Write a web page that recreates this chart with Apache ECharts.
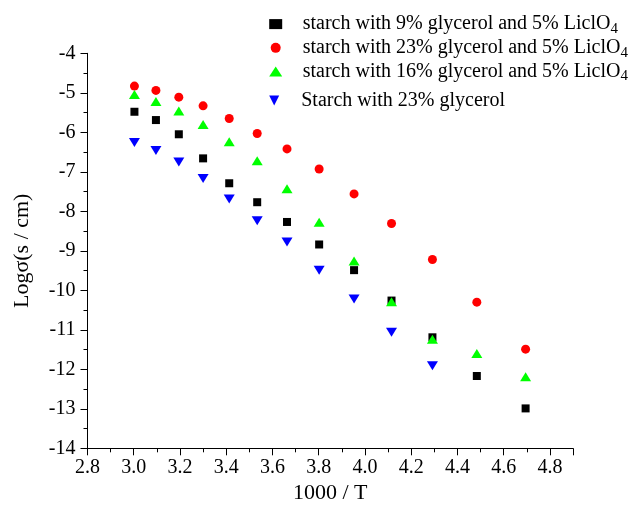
<!DOCTYPE html>
<html>
<head>
<meta charset="utf-8">
<script src="https://cdn.jsdelivr.net/npm/echarts@6/dist/echarts.min.js"></script>
<style>
  html, body { margin: 0; padding: 0; background: #fff; }
  #chart { width: 643px; height: 505px; }
</style>
</head>
<body>
<div id="chart"></div>
<script>
// Inverse temperature values (1000 / T)
const inverseTemp = [3.003, 3.096, 3.195, 3.300, 3.413, 3.534, 3.663, 3.802, 3.953, 4.115, 4.292, 4.484, 4.695];

// Log conductivity for each film composition
const glycerol9Licl = [-5.48, -5.69, -6.05, -6.66, -7.29, -7.77, -8.27, -8.84, -9.49, -10.26, -11.19, -12.17, -12.99];
const glycerol23Licl = [-4.83, -4.94, -5.11, -5.33, -5.65, -6.03, -6.42, -6.93, -7.56, -8.31, -9.22, -10.30, -11.49];
const glycerol16Licl = [-5.04, -5.22, -5.46, -5.80, -6.24, -6.72, -7.43, -8.28, -9.26, -10.29, -11.24, -11.60, -12.19];
const glycerol23Only = [-6.26, -6.46, -6.75, -7.17, -7.69, -8.24, -8.78, -9.49, -10.22, -11.06, -11.91];

const seriesNames = [
  'starch with 9% glycerol and 5% LiclO4',
  'starch with 23% glycerol and 5% LiclO4',
  'starch with 16% glycerol and 5% LiclO4',
  'Starch with 23% glycerol'
];

const pair = (ys) => ys.map((y, i) => [inverseTemp[i], y]);

const serif = 'Liberation Serif';
const downTriangle = 'path://M0,0L10,0L5,10Z';

// Shared legend styling; the salt formula gets a lowered "4"
const legendText = {
  rich: {
    a: { fontFamily: serif, fontSize: 20, lineHeight: 24.5, color: '#000', padding: [0, 0, 0, 15.5] },
    sub: { fontFamily: serif, fontSize: 15, lineHeight: 4, verticalAlign: 'bottom', color: '#000' }
  }
};
const legendFormatter = function (name) {
  if (name.endsWith('LiclO4')) {
    return '{a|' + name.slice(0, -1) + '}{sub|4}';
  }
  return '{a|' + name + '}';
};
const legendBase = {
  orient: 'vertical',
  left: 269.2,
  padding: 0,
  itemWidth: 13,
  itemHeight: 10,
  itemGap: 1.5,
  formatter: legendFormatter,
  textStyle: legendText
};

const chart = echarts.init(document.getElementById('chart'));

chart.setOption({
  animation: false,
  backgroundColor: '#fff',
  grid: { left: 87.5, right: 70, top: 53.3, bottom: 56.7, outerBoundsMode: 'none' },
  legend: [
    Object.assign({}, legendBase, {
      top: 14.1,
      data: seriesNames.slice(0, 3)
    }),
    Object.assign({}, legendBase, {
      top: 90.5,
      data: [{ name: seriesNames[3], icon: downTriangle }]
    })
  ],
  xAxis: {
    type: 'value',
    min: 2.8,
    max: 4.9,
    interval: 0.2,
    name: '1000 / T',
    nameLocation: 'middle',
    nameGap: 32,
    nameTextStyle: { fontFamily: serif, fontSize: 22, color: '#000' },
    splitLine: { show: false },
    axisLine: { show: true, onZero: false, lineStyle: { color: '#000', width: 1 } },
    axisTick: { show: true, inside: false, length: 7, lineStyle: { color: '#000' } },
    minorTick: { show: true, splitNumber: 2, length: 4, lineStyle: { color: '#000' } },
    axisLabel: {
      margin: 9,
      fontFamily: serif,
      fontSize: 20,
      color: '#000',
      showMaxLabel: false,
      formatter: (v) => (Math.abs(v - 4.9) < 1e-6 ? '' : v.toFixed(1))
    }
  },
  yAxis: {
    type: 'value',
    min: -14,
    max: -4,
    interval: 1,
    name: 'Logσ(s / cm)',
    nameLocation: 'middle',
    nameGap: 54,
    nameTextStyle: { fontFamily: serif, fontSize: 22, color: '#000' },
    splitLine: { show: false },
    axisLine: { show: true, onZero: false, lineStyle: { color: '#000', width: 1 } },
    axisTick: { show: true, inside: false, length: 7, lineStyle: { color: '#000' } },
    minorTick: { show: true, splitNumber: 2, length: 4, lineStyle: { color: '#000' } },
    axisLabel: { margin: 12, fontFamily: serif, fontSize: 20, color: '#000' }
  },
  series: [
    {
      name: seriesNames[0], type: 'scatter', symbol: 'rect', symbolSize: 8, symbolKeepAspect: true,
      itemStyle: { color: '#000000', opacity: 1 }, data: pair(glycerol9Licl)
    },
    {
      name: seriesNames[1], type: 'scatter', symbol: 'circle', symbolSize: 9, symbolKeepAspect: true,
      itemStyle: { color: '#ff0000', opacity: 1 }, data: pair(glycerol23Licl)
    },
    {
      name: seriesNames[2], type: 'scatter', symbol: 'triangle', symbolSize: [11, 9],
      itemStyle: { color: '#00ff00', opacity: 1 }, data: pair(glycerol16Licl)
    },
    {
      name: seriesNames[3], type: 'scatter', symbol: 'triangle', symbolRotate: 180, symbolSize: [11, 9],
      itemStyle: { color: '#0000ff', opacity: 1 }, data: pair(glycerol23Only)
    }
  ]
});
</script>
</body>
</html>
